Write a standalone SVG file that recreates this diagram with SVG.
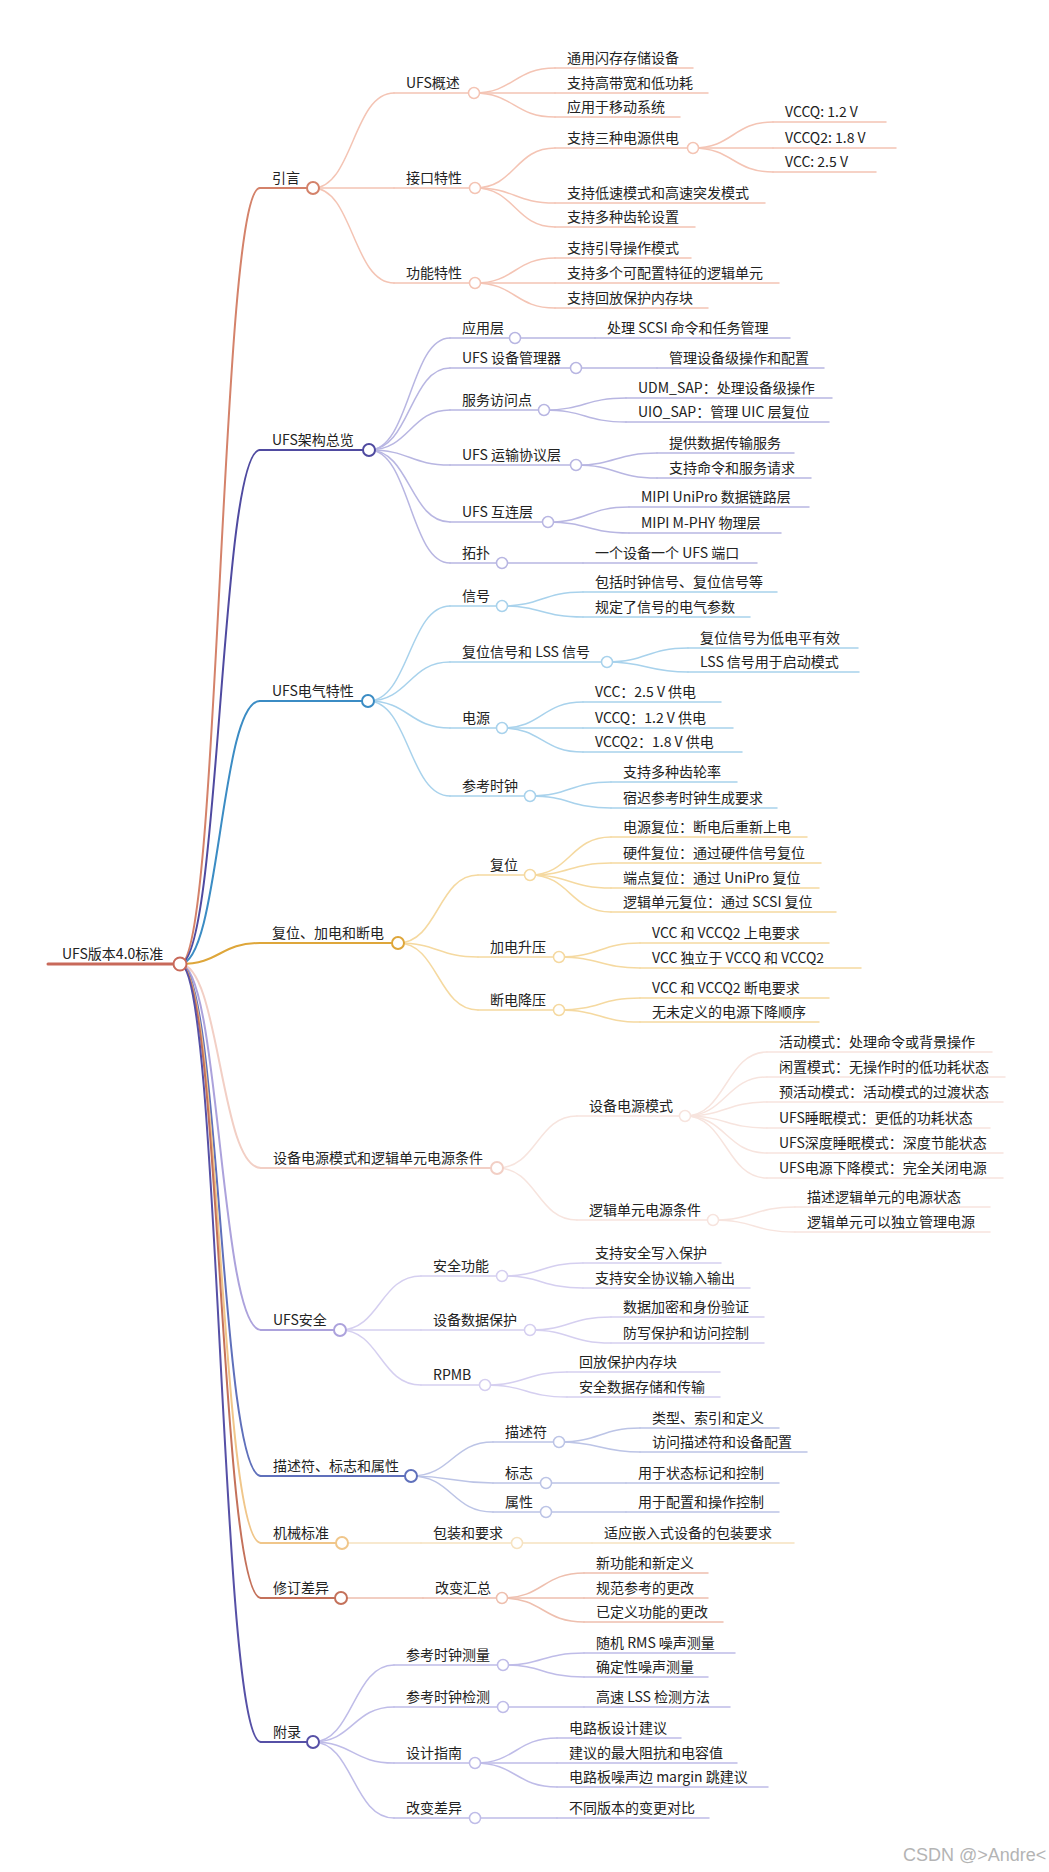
<svg xmlns="http://www.w3.org/2000/svg" width="1049" height="1872" viewBox="0 0 1049 1872">
<style>
text{font-family:"Noto Sans CJK SC","Noto Sans",sans-serif;font-size:14px;fill:#222}
path{fill:none;stroke-linecap:round}
.m{stroke-width:2}
.s{stroke-width:1.5}
circle{fill:#fff}
.root{stroke:#c8695a;stroke-width:3}
circle.root{stroke-width:2}
.b1 .m{stroke:#d4826a}.b1 .s{stroke:#f4c4b4}
.b2 .m{stroke:#4f4aa0}.b2 .s{stroke:#b8b6e2}
.b3 .m{stroke:#3b8cc4}.b3 .s{stroke:#a8d2ec}
.b4 .m{stroke:#dea63a}.b4 .s{stroke:#f5d9a0}
.b5 .m{stroke:#f2cfc5}.b5 .s{stroke:#f7e4de}
.b6 .m{stroke:#aca2dc}.b6 .s{stroke:#d5cff0}
.b7 .m{stroke:#5f70bb}.b7 .s{stroke:#bcc4e6}
.b8 .m{stroke:#f0c68a}.b8 .s{stroke:#f6e2c0}
.b9 .m{stroke:#c4715a}.b9 .s{stroke:#eebfae}
.b10 .m{stroke:#5650a6}.b10 .s{stroke:#bfbce8}
.wm{font-family:"Liberation Sans",sans-serif;font-size:18px;fill:#b4b4b4}
</style>
<rect width="1049" height="1872" fill="#fff"/>
<g id="connectors">
<g class="b1">
<path class="m" d="M180 964C220 964 220 188 260 188"/>
<path class="s" d="M313 188C353 188 353 93 394 93"/>
<path class="s" d="M313 188H394"/>
<path class="s" d="M313 188C353 188 353 283 394 283"/>
<path class="s" d="M474 93C514 93 514 68 555 68"/>
<path class="s" d="M474 93H555"/>
<path class="s" d="M474 93C514 93 514 117 555 117"/>
<path class="s" d="M475 188C515 188 515 148 555 148"/>
<path class="s" d="M475 188C515 188 515 203 555 203"/>
<path class="s" d="M475 188C515 188 515 227 555 227"/>
<path class="s" d="M693 148C733 148 733 122 773 122"/>
<path class="s" d="M693 148H773"/>
<path class="s" d="M693 148C733 148 733 172 773 172"/>
<path class="s" d="M475 283C515 283 515 258 555 258"/>
<path class="s" d="M475 283H555"/>
<path class="s" d="M475 283C515 283 515 308 555 308"/>
</g>
<g class="b2">
<path class="m" d="M180 964C220 964 220 450 260 450"/>
<path class="s" d="M369 450C410 450 410 338 450 338"/>
<path class="s" d="M369 450C410 450 410 368 450 368"/>
<path class="s" d="M369 450C410 450 410 410 450 410"/>
<path class="s" d="M369 450C410 450 410 465 450 465"/>
<path class="s" d="M369 450C410 450 410 522 450 522"/>
<path class="s" d="M369 450C410 450 410 563 450 563"/>
<path class="s" d="M515 338H595"/>
<path class="s" d="M576 368H657"/>
<path class="s" d="M544 410C585 410 585 398 626 398"/>
<path class="s" d="M544 410C585 410 585 422 626 422"/>
<path class="s" d="M576 465C616 465 616 453 657 453"/>
<path class="s" d="M576 465C616 465 616 478 657 478"/>
<path class="s" d="M548 522C588 522 588 507 629 507"/>
<path class="s" d="M548 522C588 522 588 533 629 533"/>
<path class="s" d="M502 563H583"/>
</g>
<g class="b3">
<path class="m" d="M180 964C220 964 220 701 260 701"/>
<path class="s" d="M368 701C409 701 409 606 450 606"/>
<path class="s" d="M368 701C409 701 409 662 450 662"/>
<path class="s" d="M368 701C409 701 409 728 450 728"/>
<path class="s" d="M368 701C409 701 409 796 450 796"/>
<path class="s" d="M502 606C542 606 542 592 583 592"/>
<path class="s" d="M502 606C542 606 542 617 583 617"/>
<path class="s" d="M607 662C647 662 647 648 688 648"/>
<path class="s" d="M607 662C647 662 647 672 688 672"/>
<path class="s" d="M502 728C542 728 542 702 583 702"/>
<path class="s" d="M502 728H583"/>
<path class="s" d="M502 728C542 728 542 752 583 752"/>
<path class="s" d="M530 796C570 796 570 782 611 782"/>
<path class="s" d="M530 796C570 796 570 808 611 808"/>
</g>
<g class="b4">
<path class="m" d="M180 964C220 964 220 943 260 943"/>
<path class="s" d="M398 943C438 943 438 875 478 875"/>
<path class="s" d="M398 943C438 943 438 957 478 957"/>
<path class="s" d="M398 943C438 943 438 1010 478 1010"/>
<path class="s" d="M530 875C570 875 570 837 611 837"/>
<path class="s" d="M530 875C570 875 570 863 611 863"/>
<path class="s" d="M530 875C570 875 570 888 611 888"/>
<path class="s" d="M530 875C570 875 570 912 611 912"/>
<path class="s" d="M559 957C600 957 600 943 640 943"/>
<path class="s" d="M559 957C600 957 600 968 640 968"/>
<path class="s" d="M559 1010C600 1010 600 998 640 998"/>
<path class="s" d="M559 1010C600 1010 600 1022 640 1022"/>
</g>
<g class="b5">
<path class="m" d="M180 964C220 964 220 1168 261 1168"/>
<path class="s" d="M497 1168C537 1168 537 1116 577 1116"/>
<path class="s" d="M497 1168C537 1168 537 1220 577 1220"/>
<path class="s" d="M685 1116C726 1116 726 1052 767 1052"/>
<path class="s" d="M685 1116C726 1116 726 1077 767 1077"/>
<path class="s" d="M685 1116C726 1116 726 1102 767 1102"/>
<path class="s" d="M685 1116C726 1116 726 1128 767 1128"/>
<path class="s" d="M685 1116C726 1116 726 1153 767 1153"/>
<path class="s" d="M685 1116C726 1116 726 1178 767 1178"/>
<path class="s" d="M713 1220C754 1220 754 1207 795 1207"/>
<path class="s" d="M713 1220C754 1220 754 1232 795 1232"/>
</g>
<g class="b6">
<path class="m" d="M180 964C220 964 220 1330 261 1330"/>
<path class="s" d="M340 1330C380 1330 380 1276 421 1276"/>
<path class="s" d="M340 1330H421"/>
<path class="s" d="M340 1330C380 1330 380 1385 421 1385"/>
<path class="s" d="M502 1276C542 1276 542 1263 583 1263"/>
<path class="s" d="M502 1276C542 1276 542 1288 583 1288"/>
<path class="s" d="M530 1330C570 1330 570 1317 611 1317"/>
<path class="s" d="M530 1330C570 1330 570 1343 611 1343"/>
<path class="s" d="M485 1385C526 1385 526 1372 567 1372"/>
<path class="s" d="M485 1385C526 1385 526 1397 567 1397"/>
</g>
<g class="b7">
<path class="m" d="M180 964C220 964 220 1476 261 1476"/>
<path class="s" d="M411 1476C452 1476 452 1442 493 1442"/>
<path class="s" d="M411 1476C452 1476 452 1483 493 1483"/>
<path class="s" d="M411 1476C452 1476 452 1512 493 1512"/>
<path class="s" d="M559 1442C600 1442 600 1428 640 1428"/>
<path class="s" d="M559 1442C600 1442 600 1452 640 1452"/>
<path class="s" d="M546 1483H626"/>
<path class="s" d="M546 1512H626"/>
</g>
<g class="b8">
<path class="m" d="M180 964C220 964 220 1543 261 1543"/>
<path class="s" d="M342 1543H421"/>
<path class="s" d="M517 1543H592"/>
</g>
<g class="b9">
<path class="m" d="M180 964C220 964 220 1598 261 1598"/>
<path class="s" d="M341 1598H423"/>
<path class="s" d="M502 1598C543 1598 543 1573 584 1573"/>
<path class="s" d="M502 1598H584"/>
<path class="s" d="M502 1598C543 1598 543 1622 584 1622"/>
</g>
<g class="b10">
<path class="m" d="M180 964C220 964 220 1742 261 1742"/>
<path class="s" d="M313 1742C353 1742 353 1665 394 1665"/>
<path class="s" d="M313 1742C353 1742 353 1707 394 1707"/>
<path class="s" d="M313 1742C353 1742 353 1763 394 1763"/>
<path class="s" d="M313 1742C353 1742 353 1818 394 1818"/>
<path class="s" d="M503 1665C543 1665 543 1653 584 1653"/>
<path class="s" d="M503 1665C543 1665 543 1677 584 1677"/>
<path class="s" d="M503 1707H584"/>
<path class="s" d="M475 1763C516 1763 516 1738 557 1738"/>
<path class="s" d="M475 1763H557"/>
<path class="s" d="M475 1763C516 1763 516 1787 557 1787"/>
<path class="s" d="M475 1818H557"/>
</g>
</g>

<g id="n-root"><path class="root" d="M48 964H180"/><circle class="root" cx="180" cy="964" r="6.5"/><text x="62" y="959">UFS版本4.0标准</text></g>

<g class="b1">
<g id="n-intro"><path class="m" d="M260 188H313"/><circle class="m" cx="313" cy="188" r="6"/><text x="272" y="183">引言</text></g>
<g id="n-overview"><path class="s" d="M394 93H474"/><circle class="s" cx="474" cy="93" r="5.5"/><text x="406" y="88">UFS概述</text></g>
<g id="n-ov1"><path class="s" d="M555 68H693"/><text x="567" y="63">通用闪存存储设备</text></g>
<g id="n-ov2"><path class="s" d="M555 93H708"/><text x="567" y="88">支持高带宽和低功耗</text></g>
<g id="n-ov3"><path class="s" d="M555 117H680"/><text x="567" y="112">应用于移动系统</text></g>
<g id="n-iface"><path class="s" d="M394 188H475"/><circle class="s" cx="475" cy="188" r="5.5"/><text x="406" y="183">接口特性</text></g>
<g id="n-if1"><path class="s" d="M555 148H693"/><circle class="s" cx="693" cy="148" r="5.5"/><text x="567" y="143">支持三种电源供电</text></g>
<g id="n-if1a"><path class="s" d="M773 122H886"/><text x="785" y="117">VCCQ: 1.2 V</text></g>
<g id="n-if1b"><path class="s" d="M773 148H896"/><text x="785" y="143">VCCQ2: 1.8 V</text></g>
<g id="n-if1c"><path class="s" d="M773 172H876"/><text x="785" y="167">VCC: 2.5 V</text></g>
<g id="n-if2"><path class="s" d="M555 203H765"/><text x="567" y="198">支持低速模式和高速突发模式</text></g>
<g id="n-if3"><path class="s" d="M555 227H695"/><text x="567" y="222">支持多种齿轮设置</text></g>
<g id="n-func"><path class="s" d="M394 283H475"/><circle class="s" cx="475" cy="283" r="5.5"/><text x="406" y="278">功能特性</text></g>
<g id="n-fn1"><path class="s" d="M555 258H691"/><text x="567" y="253">支持引导操作模式</text></g>
<g id="n-fn2"><path class="s" d="M555 283H779"/><text x="567" y="278">支持多个可配置特征的逻辑单元</text></g>
<g id="n-fn3"><path class="s" d="M555 308H708"/><text x="567" y="303">支持回放保护内存块</text></g>
</g>

<g class="b2">
<g id="n-arch"><path class="m" d="M260 450H369"/><circle class="m" cx="369" cy="450" r="6"/><text x="272" y="445">UFS架构总览</text></g>
<g id="n-app"><path class="s" d="M450 338H515"/><circle class="s" cx="515" cy="338" r="5.5"/><text x="462" y="333">应用层</text></g>
<g id="n-app1"><path class="s" d="M595 338H790"/><text x="607" y="333">处理 SCSI 命令和任务管理</text></g>
<g id="n-udm"><path class="s" d="M450 368H576"/><circle class="s" cx="576" cy="368" r="5.5"/><text x="462" y="363">UFS 设备管理器</text></g>
<g id="n-udm1"><path class="s" d="M657 368H824"/><text x="669" y="363">管理设备级操作和配置</text></g>
<g id="n-sap"><path class="s" d="M450 410H544"/><circle class="s" cx="544" cy="410" r="5.5"/><text x="462" y="405">服务访问点</text></g>
<g id="n-sap1"><path class="s" d="M626 398H832"/><text x="638" y="393">UDM_SAP：处理设备级操作</text></g>
<g id="n-sap2"><path class="s" d="M626 422H829"/><text x="638" y="417">UIO_SAP：管理 UIC 层复位</text></g>
<g id="n-utp"><path class="s" d="M450 465H576"/><circle class="s" cx="576" cy="465" r="5.5"/><text x="462" y="460">UFS 运输协议层</text></g>
<g id="n-utp1"><path class="s" d="M657 453H794"/><text x="669" y="448">提供数据传输服务</text></g>
<g id="n-utp2"><path class="s" d="M657 478H811"/><text x="669" y="473">支持命令和服务请求</text></g>
<g id="n-uic"><path class="s" d="M450 522H548"/><circle class="s" cx="548" cy="522" r="5.5"/><text x="462" y="517">UFS 互连层</text></g>
<g id="n-uic1"><path class="s" d="M629 507H809"/><text x="641" y="502">MIPI UniPro 数据链路层</text></g>
<g id="n-uic2"><path class="s" d="M629 533H781"/><text x="641" y="528">MIPI M-PHY 物理层</text></g>
<g id="n-topo"><path class="s" d="M450 563H502"/><circle class="s" cx="502" cy="563" r="5.5"/><text x="462" y="558">拓扑</text></g>
<g id="n-topo1"><path class="s" d="M583 563H757"/><text x="595" y="558">一个设备一个 UFS 端口</text></g>
</g>

<g class="b3">
<g id="n-elec"><path class="m" d="M260 701H368"/><circle class="m" cx="368" cy="701" r="6"/><text x="272" y="696">UFS电气特性</text></g>
<g id="n-sig"><path class="s" d="M450 606H502"/><circle class="s" cx="502" cy="606" r="5.5"/><text x="462" y="601">信号</text></g>
<g id="n-sig1"><path class="s" d="M583 592H777"/><text x="595" y="587">包括时钟信号、复位信号等</text></g>
<g id="n-sig2"><path class="s" d="M583 617H750"/><text x="595" y="612">规定了信号的电气参数</text></g>
<g id="n-lss"><path class="s" d="M450 662H607"/><circle class="s" cx="607" cy="662" r="5.5"/><text x="462" y="657">复位信号和 LSS 信号</text></g>
<g id="n-lss1"><path class="s" d="M688 648H858"/><text x="700" y="643">复位信号为低电平有效</text></g>
<g id="n-lss2"><path class="s" d="M688 672H859"/><text x="700" y="667">LSS 信号用于启动模式</text></g>
<g id="n-pwr"><path class="s" d="M450 728H502"/><circle class="s" cx="502" cy="728" r="5.5"/><text x="462" y="723">电源</text></g>
<g id="n-pwr1"><path class="s" d="M583 702H721"/><text x="595" y="697">VCC：2.5 V 供电</text></g>
<g id="n-pwr2"><path class="s" d="M583 728H733"/><text x="595" y="723">VCCQ：1.2 V 供电</text></g>
<g id="n-pwr3"><path class="s" d="M583 752H742"/><text x="595" y="747">VCCQ2：1.8 V 供电</text></g>
<g id="n-clk"><path class="s" d="M450 796H530"/><circle class="s" cx="530" cy="796" r="5.5"/><text x="462" y="791">参考时钟</text></g>
<g id="n-clk1"><path class="s" d="M611 782H737"/><text x="623" y="777">支持多种齿轮率</text></g>
<g id="n-clk2"><path class="s" d="M611 808H777"/><text x="623" y="803">宿迟参考时钟生成要求</text></g>
</g>

<g class="b4">
<g id="n-reset"><path class="m" d="M260 943H398"/><circle class="m" cx="398" cy="943" r="6"/><text x="272" y="938">复位、加电和断电</text></g>
<g id="n-rst"><path class="s" d="M478 875H530"/><circle class="s" cx="530" cy="875" r="5.5"/><text x="490" y="870">复位</text></g>
<g id="n-rst1"><path class="s" d="M611 837H807"/><text x="623" y="832">电源复位：断电后重新上电</text></g>
<g id="n-rst2"><path class="s" d="M611 863H821"/><text x="623" y="858">硬件复位：通过硬件信号复位</text></g>
<g id="n-rst3"><path class="s" d="M611 888H819"/><text x="623" y="883">端点复位：通过 UniPro 复位</text></g>
<g id="n-rst4"><path class="s" d="M611 912H836"/><text x="623" y="907">逻辑单元复位：通过 SCSI 复位</text></g>
<g id="n-pu"><path class="s" d="M478 957H559"/><circle class="s" cx="559" cy="957" r="5.5"/><text x="490" y="952">加电升压</text></g>
<g id="n-pu1"><path class="s" d="M640 943H829"/><text x="652" y="938">VCC 和 VCCQ2 上电要求</text></g>
<g id="n-pu2"><path class="s" d="M640 968H861"/><text x="652" y="963">VCC 独立于 VCCQ 和 VCCQ2</text></g>
<g id="n-pd"><path class="s" d="M478 1010H559"/><circle class="s" cx="559" cy="1010" r="5.5"/><text x="490" y="1005">断电降压</text></g>
<g id="n-pd1"><path class="s" d="M640 998H829"/><text x="652" y="993">VCC 和 VCCQ2 断电要求</text></g>
<g id="n-pd2"><path class="s" d="M640 1022H819"/><text x="652" y="1017">无未定义的电源下降顺序</text></g>
</g>

<g class="b5">
<g id="n-pm"><path class="m" d="M261 1168H497"/><circle class="m" cx="497" cy="1168" r="6"/><text x="273" y="1163">设备电源模式和逻辑单元电源条件</text></g>
<g id="n-dpm"><path class="s" d="M577 1116H685"/><circle class="s" cx="685" cy="1116" r="5.5"/><text x="589" y="1111">设备电源模式</text></g>
<g id="n-dpm1"><path class="s" d="M767 1052H992"/><text x="779" y="1047">活动模式：处理命令或背景操作</text></g>
<g id="n-dpm2"><path class="s" d="M767 1077H1005"/><text x="779" y="1072">闲置模式：无操作时的低功耗状态</text></g>
<g id="n-dpm3"><path class="s" d="M767 1102H1003"/><text x="779" y="1097">预活动模式：活动模式的过渡状态</text></g>
<g id="n-dpm4"><path class="s" d="M767 1128H990"/><text x="779" y="1123">UFS睡眠模式：更低的功耗状态</text></g>
<g id="n-dpm5"><path class="s" d="M767 1153H1003"/><text x="779" y="1148">UFS深度睡眠模式：深度节能状态</text></g>
<g id="n-dpm6"><path class="s" d="M767 1178H1003"/><text x="779" y="1173">UFS电源下降模式：完全关闭电源</text></g>
<g id="n-lu"><path class="s" d="M577 1220H713"/><circle class="s" cx="713" cy="1220" r="5.5"/><text x="589" y="1215">逻辑单元电源条件</text></g>
<g id="n-lu1"><path class="s" d="M795 1207H990"/><text x="807" y="1202">描述逻辑单元的电源状态</text></g>
<g id="n-lu2"><path class="s" d="M795 1232H990"/><text x="807" y="1227">逻辑单元可以独立管理电源</text></g>
</g>

<g class="b6">
<g id="n-sec"><path class="m" d="M261 1330H340"/><circle class="m" cx="340" cy="1330" r="6"/><text x="273" y="1325">UFS安全</text></g>
<g id="n-secf"><path class="s" d="M421 1276H502"/><circle class="s" cx="502" cy="1276" r="5.5"/><text x="433" y="1271">安全功能</text></g>
<g id="n-secf1"><path class="s" d="M583 1263H721"/><text x="595" y="1258">支持安全写入保护</text></g>
<g id="n-secf2"><path class="s" d="M583 1288H750"/><text x="595" y="1283">支持安全协议输入输出</text></g>
<g id="n-dp"><path class="s" d="M421 1330H530"/><circle class="s" cx="530" cy="1330" r="5.5"/><text x="433" y="1325">设备数据保护</text></g>
<g id="n-dp1"><path class="s" d="M611 1317H764"/><text x="623" y="1312">数据加密和身份验证</text></g>
<g id="n-dp2"><path class="s" d="M611 1343H764"/><text x="623" y="1338">防写保护和访问控制</text></g>
<g id="n-rpmb"><path class="s" d="M421 1385H485"/><circle class="s" cx="485" cy="1385" r="5.5"/><text x="433" y="1380">RPMB</text></g>
<g id="n-rpmb1"><path class="s" d="M567 1372H720"/><text x="579" y="1367">回放保护内存块</text></g>
<g id="n-rpmb2"><path class="s" d="M567 1397H720"/><text x="579" y="1392">安全数据存储和传输</text></g>
</g>

<g class="b7">
<g id="n-desc"><path class="m" d="M261 1476H411"/><circle class="m" cx="411" cy="1476" r="6"/><text x="273" y="1471">描述符、标志和属性</text></g>
<g id="n-ds"><path class="s" d="M493 1442H559"/><circle class="s" cx="559" cy="1442" r="5.5"/><text x="505" y="1437">描述符</text></g>
<g id="n-ds1"><path class="s" d="M640 1428H779"/><text x="652" y="1423">类型、索引和定义</text></g>
<g id="n-ds2"><path class="s" d="M640 1452H807"/><text x="652" y="1447">访问描述符和设备配置</text></g>
<g id="n-flag"><path class="s" d="M493 1483H546"/><circle class="s" cx="546" cy="1483" r="5.5"/><text x="505" y="1478">标志</text></g>
<g id="n-flag1"><path class="s" d="M626 1483H779"/><text x="638" y="1478">用于状态标记和控制</text></g>
<g id="n-attr"><path class="s" d="M493 1512H546"/><circle class="s" cx="546" cy="1512" r="5.5"/><text x="505" y="1507">属性</text></g>
<g id="n-attr1"><path class="s" d="M626 1512H779"/><text x="638" y="1507">用于配置和操作控制</text></g>
</g>

<g class="b8">
<g id="n-mech"><path class="m" d="M261 1543H342"/><circle class="m" cx="342" cy="1543" r="6"/><text x="273" y="1538">机械标准</text></g>
<g id="n-pkg"><path class="s" d="M421 1543H517"/><circle class="s" cx="517" cy="1543" r="5.5"/><text x="433" y="1538">包装和要求</text></g>
<g id="n-pkg1"><path class="s" d="M592 1543H794"/><text x="604" y="1538">适应嵌入式设备的包装要求</text></g>
</g>

<g class="b9">
<g id="n-rev"><path class="m" d="M261 1598H341"/><circle class="m" cx="341" cy="1598" r="6"/><text x="273" y="1593">修订差异</text></g>
<g id="n-chg"><path class="s" d="M423 1598H502"/><circle class="s" cx="502" cy="1598" r="5.5"/><text x="435" y="1593">改变汇总</text></g>
<g id="n-chg1"><path class="s" d="M584 1573H708"/><text x="596" y="1568">新功能和新定义</text></g>
<g id="n-chg2"><path class="s" d="M584 1598H708"/><text x="596" y="1593">规范参考的更改</text></g>
<g id="n-chg3"><path class="s" d="M584 1622H723"/><text x="596" y="1617">已定义功能的更改</text></g>
</g>

<g class="b10">
<g id="n-appx"><path class="m" d="M261 1742H313"/><circle class="m" cx="313" cy="1742" r="6"/><text x="273" y="1737">附录</text></g>
<g id="n-rcm"><path class="s" d="M394 1665H503"/><circle class="s" cx="503" cy="1665" r="5.5"/><text x="406" y="1660">参考时钟测量</text></g>
<g id="n-rcm1"><path class="s" d="M584 1653H735"/><text x="596" y="1648">随机 RMS 噪声测量</text></g>
<g id="n-rcm2"><path class="s" d="M584 1677H708"/><text x="596" y="1672">确定性噪声测量</text></g>
<g id="n-rcd"><path class="s" d="M394 1707H503"/><circle class="s" cx="503" cy="1707" r="5.5"/><text x="406" y="1702">参考时钟检测</text></g>
<g id="n-rcd1"><path class="s" d="M584 1707H730"/><text x="596" y="1702">高速 LSS 检测方法</text></g>
<g id="n-dg"><path class="s" d="M394 1763H475"/><circle class="s" cx="475" cy="1763" r="5.5"/><text x="406" y="1758">设计指南</text></g>
<g id="n-dg1"><path class="s" d="M557 1738H681"/><text x="569" y="1733">电路板设计建议</text></g>
<g id="n-dg2"><path class="s" d="M557 1763H737"/><text x="569" y="1758">建议的最大阻抗和电容值</text></g>
<g id="n-dg3"><path class="s" d="M557 1787H768"/><text x="569" y="1782">电路板噪声边 margin 跳建议</text></g>
<g id="n-cd"><path class="s" d="M394 1818H475"/><circle class="s" cx="475" cy="1818" r="5.5"/><text x="406" y="1813">改变差异</text></g>
<g id="n-cd1"><path class="s" d="M557 1818H709"/><text x="569" y="1813">不同版本的变更对比</text></g>
</g>

<text class="wm" x="903" y="1861">CSDN @&gt;Andre&lt;</text>
</svg>
